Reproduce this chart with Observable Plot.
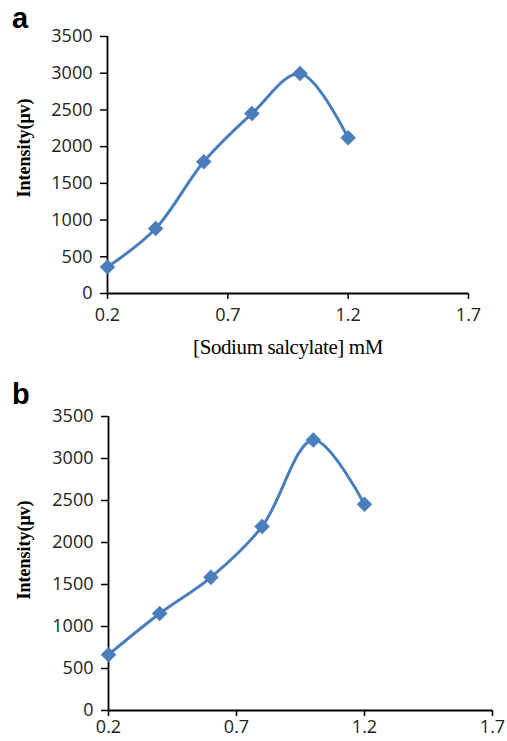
<!DOCTYPE html>
<html>
<head>
<meta charset="utf-8">
<script src="https://cdn.jsdelivr.net/npm/d3@7"></script>
<script src="https://cdn.jsdelivr.net/npm/@observablehq/plot@0.6"></script>
<style>
  html, body { margin: 0; padding: 0; background: #fff; }
  #wrap { position: relative; width: 507px; height: 741px; overflow: hidden; }
  .panel { position: absolute; left: 0; }
  .letter { position: absolute; font-family: "Liberation Sans", Arial, sans-serif; font-weight: bold; font-size: 29px; line-height: 1; }
  .ylab { position: absolute; font-family: "Liberation Serif", "Times New Roman", serif; font-weight: bold; font-size: 18px; transform: rotate(-90deg); transform-origin: center center; white-space: nowrap; line-height: 1; }
  .xlab { position: absolute; font-family: "Liberation Serif", "Times New Roman", serif; font-size: 21px; white-space: nowrap; transform: translateX(-50%); line-height: 1; letter-spacing: -0.4px; }
</style>
</head>
<body>
<div id="wrap">
  <div class="panel" id="pa" style="top:0px"></div>
  <div class="panel" id="pb" style="top:370px"></div>
  <div class="letter" style="left:12px;top:4px">a</div>
  <div class="letter" style="left:12px;top:380px">b</div>
  <div class="ylab" id="yla">Intensity(μv)</div>
  <div class="ylab" id="ylb">Intensity(μv)</div>
  <div class="xlab" style="left:288px;top:337px">[Sodium salcylate] mM</div>
</div>
<script>
const concentration = [0.2, 0.4, 0.6, 0.8, 1.0, 1.2];
const intensityA = [360, 885, 1795, 2450, 2995, 2120];
const intensityB = [665, 1155, 1585, 2190, 3220, 2455];
const xTicks = [0.2, 0.7, 1.2, 1.7];
const yTicks = [0, 500, 1000, 1500, 2000, 2500, 3000, 3500];

const color = "#4a7ebb";

function panel(values, opts) {
  const data = concentration.map((c, i) => ({x: c, y: values[i]}));
  return Plot.plot({
    width: 507,
    height: opts.height,
    marginTop: opts.mt,
    marginBottom: opts.mb,
    marginLeft: opts.ml,
    marginRight: opts.mr,
    style: {fontFamily: "'Open Sans', sans-serif", fontSize: "18px", color: "#222", background: "white", overflow: "visible"},
    x: {domain: [0.2, 1.7]},
    y: {domain: [0, 3500]},
    marks: [
      Plot.axisX({ticks: xTicks, tickFormat: d => d.toFixed(1), tickSize: 6, tickPadding: opts.xpad, label: null, stroke: "#000", strokeWidth: 1.5, fontSize: 18}),
      Plot.axisY({ticks: yTicks, tickFormat: d => String(d), tickSize: 7, tickPadding: 8, label: null, stroke: "#000", strokeWidth: 1.5, fontSize: 18}),
      Plot.ruleX([0.2], {stroke: "#000", strokeWidth: 1.8}),
      Plot.ruleY([0], {stroke: "#000", strokeWidth: 1.8}),
      Plot.line(data, {x: "x", y: "y", curve: "catmull-rom", stroke: color, strokeWidth: 3}),
      Plot.dot(data, {x: "x", y: "y", symbol: "square", rotate: 45, r: 6.2, fill: color, stroke: "none"})
    ]
  });
}

document.getElementById("pa").append(panel(intensityA, {height: 370, mt: 36, mb: 77, ml: 107, mr: 39, xpad: 9}));
document.getElementById("pb").append(panel(intensityB, {height: 371, mt: 46, mb: 31, ml: 108, mr: 15, xpad: 4}));

function placeY(id, cx, cy) {
  const el = document.getElementById(id);
  const w = el.offsetWidth, h = el.offsetHeight;
  el.style.left = (cx - w / 2) + "px";
  el.style.top = (cy - h / 2) + "px";
}
placeY("yla", 23, 148);
placeY("ylb", 23, 550);
</script>
</body>
</html>
